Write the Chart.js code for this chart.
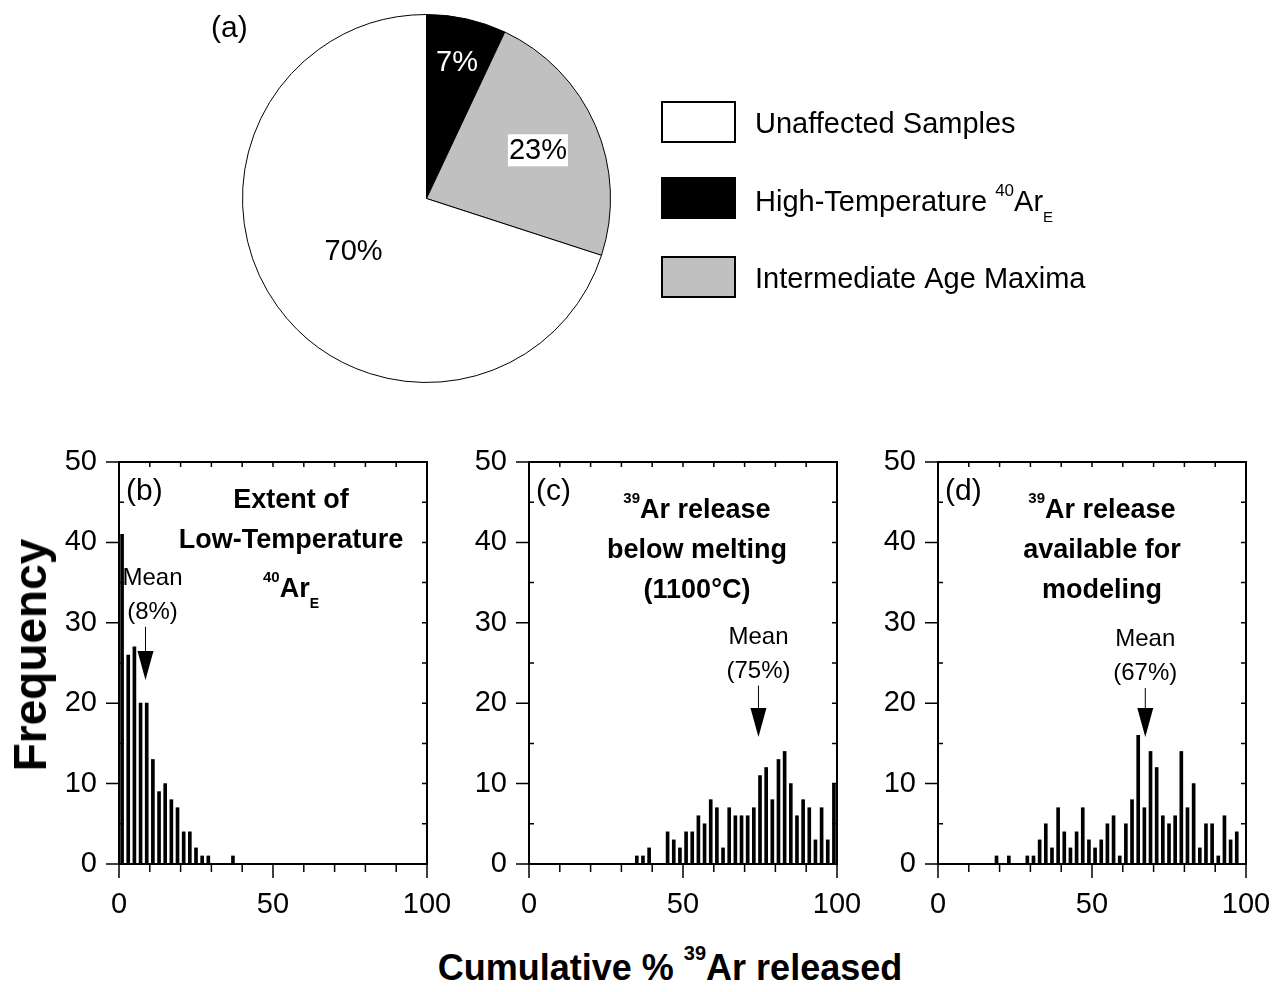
<!DOCTYPE html>
<html>
<head>
<meta charset="utf-8">
<script src="https://cdn.jsdelivr.net/npm/chart.js@4.4.0/dist/chart.umd.min.js"></script>
<style>
body { margin: 0; background: #fff; width: 1281px; height: 992px; position: relative; overflow: hidden; font-family: "Liberation Sans", Arial, sans-serif; }
canvas { position: absolute; }
.ttl { position: absolute; font-weight: bold; color: #000; white-space: nowrap; line-height: 1; }
</style>
</head>
<body>
<canvas id="pie" style="left:0;top:0" width="1281" height="400"></canvas>
<canvas id="histB" style="left:39px;top:445px" width="418" height="470"></canvas>
<canvas id="histC" style="left:449px;top:445px" width="418" height="470"></canvas>
<canvas id="histD" style="left:858px;top:445px" width="418" height="470"></canvas>
<div class="ttl" style="left:30px;top:655px;font-size:46px;transform:translate(-50%,-50%) rotate(-90deg)">Frequency</div>
<div class="ttl" style="left:670px;top:950px;font-size:36px;transform:translateX(-50%)">Cumulative % <span style="font-size:20px;position:relative;top:-20px">39</span>Ar released</div>
<script>
// pie (a): slices clockwise from 12 o'clock
const pieLabels = ['High-Temperature', 'Intermediate Age Maxima', 'Unaffected Samples'];
const pieValues = [7, 23, 70];
const pieColors = ['#000000', '#c0c0c0', '#ffffff'];
const legendOrder = [2, 0, 1];

// histograms, 2% bins (bin centres)
const lowTempX = [1, 3, 5, 7, 9, 11, 13, 15, 17, 19, 21, 23, 25, 27, 29, 37];
const lowTempFreq = [41, 26, 27, 20, 20, 13, 9, 10, 8, 7, 4, 4, 2, 1, 1, 1];

const belowMeltX = [35, 37, 39, 45, 47, 49, 51, 53, 55, 57, 59, 61, 63, 65, 67, 69, 71, 73, 75, 77, 79, 81, 83, 85, 87, 89, 91, 93, 95, 97, 99];
const belowMeltFreq = [1, 1, 2, 4, 3, 2, 4, 4, 6, 5, 8, 7, 2, 7, 6, 6, 6, 7, 11, 12, 8, 13, 14, 10, 6, 8, 7, 3, 7, 3, 10];

const modelX = [19, 23, 29, 31, 33, 35, 37, 39, 41, 43, 45, 47, 49, 51, 53, 55, 57, 59, 61, 63, 65, 67, 69, 71, 73, 75, 77, 79, 81, 83, 85, 87, 89, 91, 93, 95, 97];
const modelFreq = [1, 1, 1, 1, 3, 5, 2, 7, 4, 2, 4, 7, 3, 2, 3, 5, 6, 1, 5, 8, 16, 7, 14, 12, 6, 5, 6, 14, 7, 10, 2, 5, 5, 1, 6, 3, 4];

const xTicks = [0, 50, 100];
const yTicks = [0, 10, 20, 30, 40, 50];

// mean arrows
const meanX = [8.6, 74.5, 67.3];
const meanLabel = ['(8%)', '(75%)', '(67%)'];
const arrowTop = [29.5, 22.2, 21.9];
const arrowTip = [22.9, 15.8, 15.8];

const panelTags = ['(b)', '(c)', '(d)'];
const panelTitles = [
    [[['Extent of', 'm']], [['Low-Temperature', 'm']], [['40', 'sup'], ['Ar', 'm'], ['E', 'sub']]],
    [[['39', 'sup'], ['Ar release', 'm']], [['below melting', 'm']], [['(1100°C)', 'm']]],
    [[['39', 'sup'], ['Ar release', 'm']], [['available for', 'm']], [['modeling', 'm']]]
];

const FONT = "'Liberation Sans', Arial, sans-serif";
Chart.defaults.font.family = FONT;
Chart.defaults.color = '#000';

function drawRich(ctx, parts, cx, base, bold, sizes) {
    const spec = { m: [sizes.m, 0], sup: [sizes.sup, -15], sub: [sizes.sub, 11] };
    let w = 0;
    parts.forEach(p => {
        ctx.font = (bold ? 'bold ' : '') + spec[p[1]][0] + 'px ' + FONT;
        w += ctx.measureText(p[0]).width;
    });
    let x = cx - w / 2;
    ctx.textAlign = 'left';
    ctx.textBaseline = 'alphabetic';
    parts.forEach(p => {
        ctx.font = (bold ? 'bold ' : '') + spec[p[1]][0] + 'px ' + FONT;
        ctx.fillText(p[0], x, base + spec[p[1]][1]);
        x += ctx.measureText(p[0]).width;
    });
}

const panelPlugin = {
    id: 'panel',
    afterDatasetsDraw(chart, args, opts) {
        const { ctx, chartArea: a, scales: { x, y } } = chart;
        const k = opts.k;
        ctx.save();
        ctx.strokeStyle = '#000';
        ctx.fillStyle = '#000';
        ctx.lineWidth = 2;
        ctx.strokeRect(a.left, a.top, a.right - a.left, a.bottom - a.top);
        ctx.lineWidth = 1.5;
        ctx.beginPath();
        for (let v = 0; v <= 100; v += 10) {
            const px = x.getPixelForValue(v);
            ctx.moveTo(px, a.bottom);
            ctx.lineTo(px, a.bottom + (v % 50 === 0 ? 14 : 8));
            ctx.moveTo(px, a.top);
            ctx.lineTo(px, a.top + 5);
        }
        for (let v = 0; v <= 50; v += 5) {
            const py = y.getPixelForValue(v);
            if (v % 10 === 0) {
                ctx.moveTo(a.left - 13, py);
                ctx.lineTo(a.left, py);
            } else {
                ctx.moveTo(a.left, py);
                ctx.lineTo(a.left + 5, py);
            }
            ctx.moveTo(a.right, py);
            ctx.lineTo(a.right - 5, py);
        }
        ctx.stroke();

        // panel tag
        ctx.font = '30px ' + FONT;
        ctx.textAlign = 'left';
        ctx.fillText(panelTags[k], a.left + 7, a.top + 38);

        // title
        const tcx = a.left + [172, 168, 164][k];
        const bases = k === 0 ? [46, 86, 135] : [56, 96, 136];
        panelTitles[k].forEach((line, i) => {
            drawRich(ctx, line, tcx, a.top + bases[i], true, { m: 27, sup: 15, sub: 14 });
        });

        // mean arrow
        const ax = x.getPixelForValue(meanX[k]);
        const top = y.getPixelForValue(arrowTop[k]);
        const tip = y.getPixelForValue(arrowTip[k]);
        ctx.lineWidth = 1;
        ctx.beginPath();
        ctx.moveTo(ax, top);
        ctx.lineTo(ax, tip - 28);
        ctx.stroke();
        ctx.beginPath();
        ctx.moveTo(ax - 8, tip - 29);
        ctx.lineTo(ax + 8, tip - 29);
        ctx.lineTo(ax, tip);
        ctx.closePath();
        ctx.fill();
        const tx = ax + [7, 0, 0][k];
        ctx.font = '24px ' + FONT;
        ctx.textAlign = 'center';
        ctx.fillText(meanLabel[k], tx, top - 8);
        ctx.fillText('Mean', tx, top - 42);
        ctx.restore();
    }
};

function makeHist(id, xs, ys, k) {
    return new Chart(document.getElementById(id), {
        type: 'bar',
        data: {
            datasets: [{
                data: xs.map((v, i) => ({ x: v, y: ys[i] })),
                backgroundColor: '#000',
                borderWidth: 0,
                barThickness: 3
            }]
        },
        options: {
            responsive: false,
            animation: false,
            layout: { autoPadding: false, padding: { top: 17, right: 30, left: 0, bottom: 0 } },
            plugins: {
                legend: { display: false },
                tooltip: { enabled: false },
                panel: { k: k }
            },
            scales: {
                x: {
                    type: 'linear', min: 0, max: 100, offset: false,
                    grid: { display: false, drawTicks: false },
                    border: { display: false },
                    afterBuildTicks: s => { s.ticks = xTicks.map(v => ({ value: v })); },
                    afterFit: s => { s.height = 51; s.paddingLeft = 0; s.paddingRight = 0; },
                    ticks: { color: '#000', font: { size: 29 }, padding: 24, maxRotation: 0, autoSkip: false }
                },
                y: {
                    min: 0, max: 50,
                    grid: { display: false, drawTicks: false },
                    border: { display: false },
                    afterBuildTicks: s => { s.ticks = yTicks.map(v => ({ value: v })); },
                    afterFit: s => { s.width = 80; s.paddingTop = 0; s.paddingBottom = 0; },
                    ticks: { color: '#000', font: { size: 29 }, padding: 22 }
                }
            }
        },
        plugins: [panelPlugin]
    });
}

makeHist('histB', lowTempX, lowTempFreq, 0);
makeHist('histC', belowMeltX, belowMeltFreq, 1);
makeHist('histD', modelX, modelFreq, 2);

const pieDecor = {
    id: 'pieDecor',
    afterDatasetsDraw(chart) {
        const ctx = chart.ctx;
        const arcs = chart.getDatasetMeta(0).data;
        const radial = [0.76, 0.66, 0.49];
        ctx.save();
        ctx.font = '29px ' + FONT;
        ctx.textAlign = 'center';
        ctx.textBaseline = 'middle';
        arcs.forEach((arc, i) => {
            const p = arc.getProps(['x', 'y', 'startAngle', 'endAngle', 'outerRadius'], true);
            const mid = (p.startAngle + p.endAngle) / 2;
            const lx = p.x + Math.cos(mid) * p.outerRadius * radial[i];
            const ly = p.y + Math.sin(mid) * p.outerRadius * radial[i];
            const txt = pieValues[i] + '%';
            if (i === 1) {
                const w = ctx.measureText(txt).width;
                ctx.fillStyle = '#fff';
                ctx.fillRect(lx - w / 2 - 1, ly - 16, w + 2, 32);
            }
            ctx.fillStyle = i === 0 ? '#fff' : '#000';
            ctx.fillText(txt, lx, ly + 1);
        });

        ctx.fillStyle = '#000';
        ctx.textAlign = 'left';
        ctx.textBaseline = 'alphabetic';
        ctx.font = '30px ' + FONT;
        ctx.fillText('(a)', 211, 37);

        // legend
        const rowY = [122, 198, 277];
        legendOrder.forEach((idx, r) => {
            ctx.fillStyle = pieColors[idx];
            ctx.fillRect(662, rowY[r] - 20, 73, 40);
            ctx.strokeStyle = '#000';
            ctx.lineWidth = 2;
            ctx.strokeRect(662, rowY[r] - 20, 73, 40);
            ctx.fillStyle = '#000';
            ctx.font = '29px ' + FONT;
            if (idx === 0) {
                ctx.fillText(pieLabels[idx] + ' ', 755, rowY[r] + 13);
                let x = 755 + ctx.measureText(pieLabels[idx] + ' ').width;
                ctx.font = '17px ' + FONT;
                ctx.fillText('40', x, rowY[r] - 2);
                x += ctx.measureText('40').width;
                ctx.font = '29px ' + FONT;
                ctx.fillText('Ar', x, rowY[r] + 13);
                x += ctx.measureText('Ar').width;
                ctx.font = '15px ' + FONT;
                ctx.fillText('E', x, rowY[r] + 24);
            } else {
                ctx.fillText(pieLabels[idx], 755, rowY[r] + 11);
            }
        });
        ctx.restore();
    }
};

new Chart(document.getElementById('pie'), {
    type: 'pie',
    data: {
        labels: pieLabels,
        datasets: [{
            data: pieValues,
            backgroundColor: pieColors,
            borderColor: '#000',
            borderWidth: 1
        }]
    },
    options: {
        responsive: false,
        animation: false,
        layout: { padding: { left: 241, right: 669, top: 14, bottom: 17 } },
        plugins: { legend: { display: false }, tooltip: { enabled: false } }
    },
    plugins: [pieDecor]
});
</script>
</body>
</html>
